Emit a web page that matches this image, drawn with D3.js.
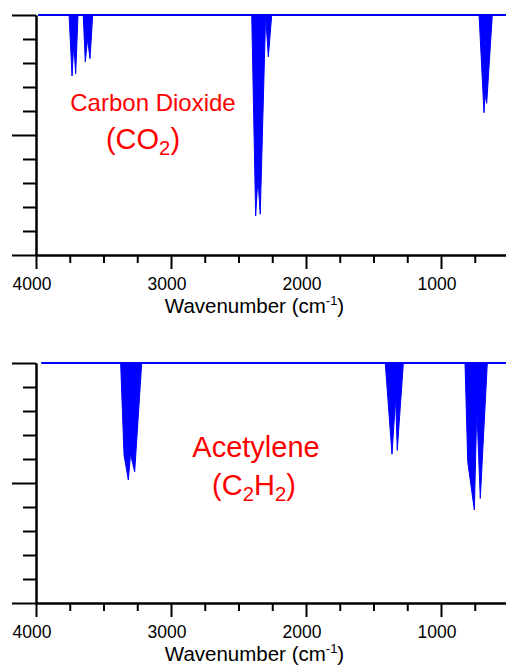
<!DOCTYPE html>
<html>
<head>
<meta charset="utf-8">
<script src="https://cdn.jsdelivr.net/npm/d3@7"></script>
<style>
  html, body { margin: 0; padding: 0; background: #fff; }
  svg { display: block; font-family: "Liberation Sans", Arial, sans-serif; }
</style>
</head>
<body>
<div id="chart"></div>
<script>
// ---- Data ----
// Carbon dioxide spectrum: wavenumber (cm-1) and absorbance (drawn downward)
const co2Wavenumber = [3983, 3755, 3733, 3720, 3706, 3689, 3650, 3635, 3618, 3600, 3580,
                       2402, 2373, 2356, 2339, 2299, 2279, 2254, 718, 681.5, 675, 661.5, 620, 500];
const co2Absorbance = [0, 0, 0.254, 0.12, 0.245, 0, 0, 0.195, 0.1, 0.182, 0,
                       0, 0.8375, 0.68, 0.83, 0, 0.174, 0, 0, 0.407, 0.33, 0.368, 0, 0];

// Acetylene spectrum
const c2h2Wavenumber = [3960, 3373, 3348, 3316, 3300, 3269, 3217,
                        1413, 1363, 1336, 1324, 1279,
                        822, 802, 753, 735, 709, 657, 500];
const c2h2Absorbance = [0, 0, 0.383, 0.4875, 0.38, 0.453, 0,
                        0, 0.38, 0.146, 0.364, 0,
                        0, 0.411, 0.6125, 0.189, 0.564, 0, 0];

const xMajorTicks = [4000, 3000, 2000, 1000];
const xMinorTicks = [3750, 3500, 3250, 2750, 2500, 2250, 1750, 1500, 1250, 750];
const yMajorTicks = [0, 0.5, 1];
const yMinorTicks = [0.1, 0.2, 0.3, 0.4, 0.6, 0.7, 0.8, 0.9];
const axisTitle = "Wavenumber (cm";
const axisTitleSup = "-1";

// ---- Layout ----
const W = 506, H = 669;
const svg = d3.select("#chart").append("svg").attr("width", W).attr("height", H);

const x = d3.scaleLinear().domain([4000, 500]).range([36, 508.5]);

const panels = [
  { wn: co2Wavenumber, ab: co2Absorbance, top: 15, bottom: 255,
    name: "Carbon Dioxide", nameSize: 24, nameX: 153, nameY: 111,
    formula: [["(CO", false], ["2", true], [")", false]], fSize: 29, fX: 143, fY: 149 },
  { wn: c2h2Wavenumber, ab: c2h2Absorbance, top: 363, bottom: 603,
    name: "Acetylene", nameSize: 29, nameX: 256, nameY: 457,
    formula: [["(C", false], ["2", true], ["H", false], ["2", true], [")", false]], fSize: 29, fX: 254, fY: 495 }
];

panels.forEach(p => {
  const y = d3.scaleLinear().domain([0, 1]).range([p.top, p.bottom]);
  const g = svg.append("g");
  const pts = p.wn.map((w, i) => ({ w, a: p.ab[i] }));

  // filled spectrum
  g.append("path").datum(pts)
    .attr("d", d3.area().x(d => x(d.w)).y0(y(0)).y1(d => y(d.a)))
    .attr("fill", "#0000ff").attr("stroke", "#0000ff").attr("stroke-width", 1);
  // baseline line
  g.append("path").datum([pts[0], pts[pts.length - 1]])
    .attr("d", d3.line().x(d => x(d.w)).y(d => y(d.a)))
    .attr("fill", "none").attr("stroke", "#0000ff").attr("stroke-width", 2);

  // x axis minor
  const xMin = g.append("g").attr("transform", `translate(0,${p.bottom})`)
    .call(d3.axisBottom(x).tickValues(xMinorTicks).tickSize(8).tickSizeOuter(0).tickFormat(""));
  // x axis major
  const xMaj = g.append("g").attr("transform", `translate(0,${p.bottom})`)
    .call(d3.axisBottom(x).tickValues(xMajorTicks).tickSize(14).tickSizeOuter(0).tickFormat(d3.format("d")));
  xMaj.selectAll("text").attr("y", 35).attr("dy", 0).attr("dx", -4.5)
    .attr("font-size", 17.5).attr("fill", "#000").attr("font-family", "Liberation Sans, Arial, sans-serif");

  // y axis
  const yMin = g.append("g").attr("transform", `translate(36,0)`)
    .call(d3.axisLeft(y).tickValues(yMinorTicks).tickSize(13).tickSizeOuter(0).tickFormat(""));
  const yMaj = g.append("g").attr("transform", `translate(36,0)`)
    .call(d3.axisLeft(y).tickValues(yMajorTicks).tickSize(24).tickSizeOuter(0).tickFormat(""));

  [xMin, xMaj, yMin, yMaj].forEach(a => {
    a.selectAll("path.domain").attr("stroke", "#000").attr("stroke-width", 2);
    a.selectAll(".tick line").attr("stroke", "#000").attr("stroke-width", 2);
  });

  // axis title
  const t = g.append("text").attr("x", 254.5).attr("y", p.bottom + 58)
    .attr("text-anchor", "middle").attr("font-size", 20.5).attr("fill", "#000");
  t.append("tspan").text(axisTitle);
  t.append("tspan").text(axisTitleSup).attr("font-size", 13).attr("dy", -8);
  t.append("tspan").text(")").attr("dy", 8);

  // compound labels
  g.append("text").attr("x", p.nameX).attr("y", p.nameY).attr("text-anchor", "middle")
    .attr("font-size", p.nameSize).attr("fill", "#ff0000").text(p.name);
  const f = g.append("text").attr("x", p.fX).attr("y", p.fY).attr("text-anchor", "middle")
    .attr("font-size", p.fSize).attr("fill", "#ff0000");
  let shifted = false;
  p.formula.forEach(([s, sub]) => {
    const ts = f.append("tspan").text(s);
    if (sub) { ts.attr("font-size", p.fSize * 0.7).attr("dy", 6); shifted = true; }
    else if (shifted) { ts.attr("dy", -6); shifted = false; }
  });
});
</script>
</body>
</html>
